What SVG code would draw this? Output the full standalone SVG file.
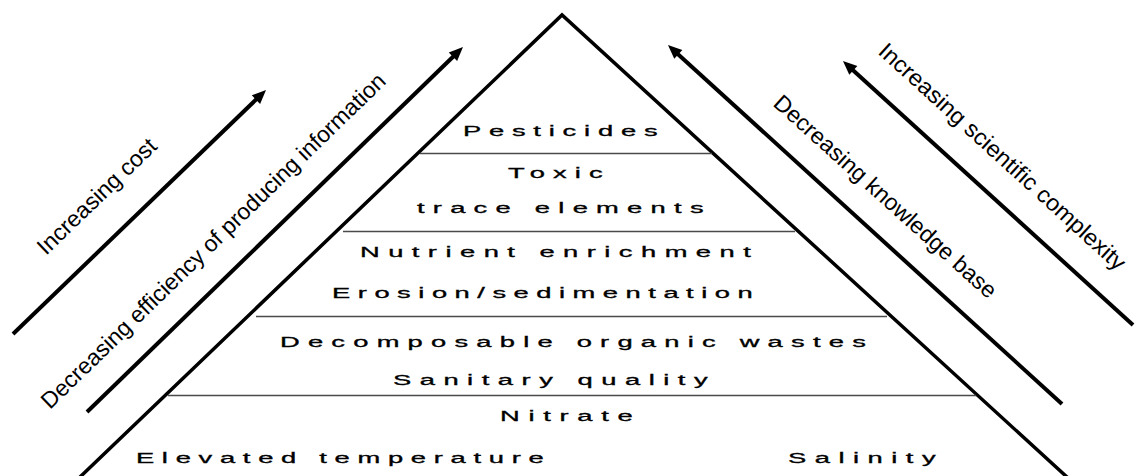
<svg xmlns="http://www.w3.org/2000/svg" width="1138" height="476" viewBox="0 0 1138 476">
  <style>
    .bg { fill: #ffffff; }
    .edge { fill: none; stroke: #000; stroke-width: 3.5; stroke-linejoin: miter; }
    .sep { stroke: #4a4a4a; stroke-width: 1.3; }
    .lbl { font-family: "Liberation Sans", Arial, sans-serif; font-size: 14px; letter-spacing: 4px; fill: #000; stroke: #000; stroke-width: 0.3; }
    .arr { stroke: #000; stroke-width: 4; fill: none; marker-end: url(#head); }
    .side { font-family: "Liberation Sans", Arial, sans-serif; font-size: 23px; fill: #000; }
  </style>
  <defs>
    <marker id="head" markerUnits="userSpaceOnUse" markerWidth="17" markerHeight="15" viewBox="0 -7.5 15 15" refX="3" refY="0" orient="auto">
      <path d="M0,-6 L14,0 L0,6 Z" fill="#000"/>
    </marker>
  </defs>
  <rect class="bg" x="0" y="0" width="1138" height="476"/>

  <g id="pyramid">
    <polyline class="edge" points="79,478 562,15 1068,478"/>
    <line class="sep" x1="420" y1="153.5" x2="712" y2="153.5"/>
    <line class="sep" x1="343" y1="231.5" x2="795" y2="231.5"/>
    <line class="sep" x1="256" y1="316.5" x2="887" y2="316.5"/>
    <line class="sep" x1="168" y1="395.5" x2="976" y2="395.5"/>
  </g>

  <g id="layer-pesticides" transform="scale(1.95,1)">
    <text class="lbl" x="237.4" y="136" textLength="103.8" lengthAdjust="spacing">Pesticides</text>
  </g>
  <g id="layer-toxic" transform="scale(1.95,1)">
    <text class="lbl" x="260.5" y="178" textLength="52.6" lengthAdjust="spacing">Toxic</text>
    <text class="lbl" x="213.8" y="213" textLength="151" lengthAdjust="spacing">trace elements</text>
  </g>
  <g id="layer-nutrient" transform="scale(1.95,1)">
    <text class="lbl" x="184.6" y="257" textLength="204.4" lengthAdjust="spacing">Nutrient enrichment</text>
    <text class="lbl" x="170.3" y="298" textLength="219.7" lengthAdjust="spacing">Erosion/sedimentation</text>
  </g>
  <g id="layer-organic" transform="scale(1.95,1)">
    <text class="lbl" x="143.6" y="347" textLength="304.4" lengthAdjust="spacing">Decomposable organic wastes</text>
    <text class="lbl" x="201.5" y="385" textLength="165.4" lengthAdjust="spacing">Sanitary quality</text>
  </g>
  <g id="layer-base" transform="scale(1.95,1)">
    <text class="lbl" x="256.4" y="421" textLength="72.1" lengthAdjust="spacing">Nitrate</text>
    <text class="lbl" x="69.7" y="463" textLength="213.1" lengthAdjust="spacing">Elevated temperature</text>
    <text class="lbl" x="404.1" y="463" textLength="79.7" lengthAdjust="spacing">Salinity</text>
  </g>

  <g id="connectors">
    <line class="arr" x1="13" y1="334" x2="258.1" y2="97.6"/>
    <line class="arr" x1="87" y1="412" x2="455.1" y2="54.7"/>
    <line class="arr" x1="1062" y1="404" x2="676.1" y2="52.4"/>
    <line class="arr" x1="1133" y1="325" x2="851.1" y2="68.4"/>
  </g>

  <g id="arrow-labels">
    <text class="side" transform="translate(46,256) rotate(-43.96)" textLength="156" lengthAdjust="spacingAndGlyphs">Increasing cost</text>
    <text class="side" transform="translate(50,410) rotate(-44.15)" textLength="470" lengthAdjust="spacingAndGlyphs">Decreasing efficiency of producing information</text>
    <text class="side" transform="translate(772,105) rotate(42)" textLength="291" lengthAdjust="spacingAndGlyphs">Decreasing knowledge base</text>
    <text class="side" transform="translate(877,53) rotate(42.3)" textLength="325" lengthAdjust="spacingAndGlyphs">Increasing scientific complexity</text>
  </g>
</svg>
